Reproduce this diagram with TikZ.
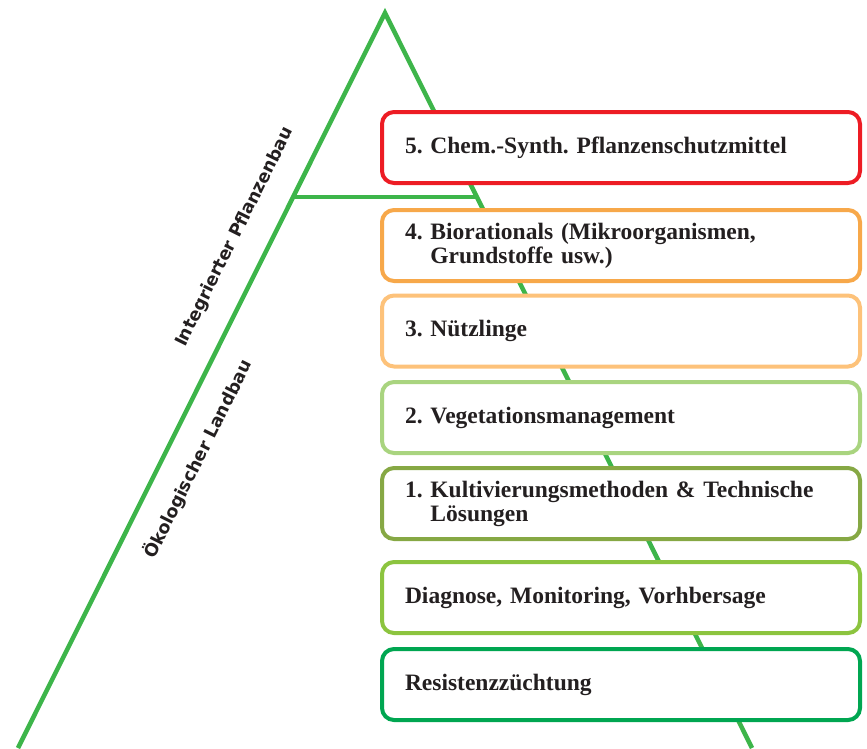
\documentclass[tikz,border=0pt]{standalone}
\usepackage{fontspec}
\setmainfont{Liberation Serif}
\newfontfamily\seitenschrift{DejaVu Sans}
\usetikzlibrary{calc}
\definecolor{Linie}{HTML}{3DB54A}
\definecolor{Schrift}{HTML}{231F20}
\definecolor{Rot}{HTML}{ED1C24}
\definecolor{Orange}{HTML}{F7A84A}
\definecolor{OrangeHell}{HTML}{FDC27A}
\definecolor{GruenHell}{HTML}{A9D47F}
\definecolor{Oliv}{HTML}{86A844}
\definecolor{GruenMittel}{HTML}{8CC43F}
\definecolor{GruenDunkel}{HTML}{00A651}
\frenchspacing

\begin{document}
\begin{tikzpicture}[
  x=1pt,y=-1pt,
  every node/.style={font=\fontsize{23.5}{24}\selectfont\bfseries,text=Schrift},
  ebene/.style={draw,line width=4pt,rounded corners=12pt,fill=white,
    minimum width=478pt,minimum height=71pt,text width=432pt,
    inner xsep=23pt,inner ysep=0pt,align=left},
  linie/.style={draw=Linie,line width=4.5pt},
  schraeg/.style={font=\seitenschrift\fontsize{17.5}{17.5}\selectfont\bfseries,rotate=63.5}
]
  \useasboundingbox (0,0) rectangle (867,748);
  \clip (0,0) rectangle (867,748);

  % Pyramide mit Trennlinie
  \coordinate (spitze) at (385,13);
  \coordinate (links) at (18,748);
  \coordinate (rechts) at (752,748);
  \draw[linie,line join=miter] (links) -- (spitze) -- (rechts);
  \coordinate (trennL) at ($(spitze)!184/735!(links)$);
  \coordinate (trennR) at ($(spitze)!184/735!(rechts)$);
  \draw[linie] (trennL) -- (trennR);

  \node[schraeg] (ipb) at (235,237) {Integrierter Pflanzenbau};
  \node[schraeg] (oel) at (198,459) {Ökologischer Landbau};

  % Stufen
  \node[ebene,draw=Rot] (stufe5) at (621,147.5) {5. Chem.-Synth. Pflanzenschutzmittel};
  \node[ebene,draw=Orange] (stufe4) at (621,245.5)
    {4. Biorationals (Mikroorganismen,\\\hphantom{4. }Grundstoffe usw.)};
  \node[ebene,draw=OrangeHell] (stufe3) at (621,331) {3. Nützlinge};
  \node[ebene,draw=GruenHell] (stufe2) at (621,417.5) {2. Vegetationsmanagement};
  \node[ebene,draw=Oliv] (stufe1) at (621,503.5)
    {1. Kultivierungsmethoden \& Technische\\\hphantom{1. }Lösungen};
  \node[ebene,draw=GruenMittel] (diagnose) at (621,597.5) {Diagnose, Monitoring, Vorhbersage};
  \node[ebene,draw=GruenDunkel] (resistenz) at (621,684.5) {Resistenzzüchtung};
\end{tikzpicture}
\end{document}
